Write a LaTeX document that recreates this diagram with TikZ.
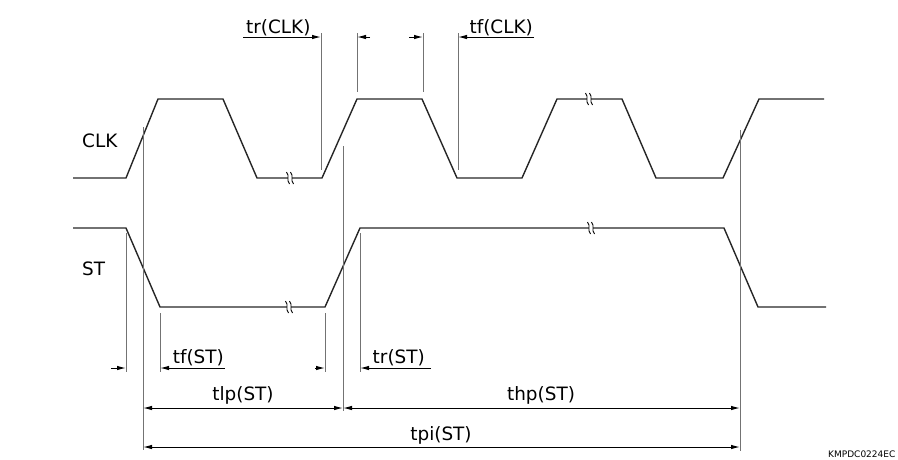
\documentclass[tikz,border=0pt]{standalone}
\usepackage{fontspec}
\setmainfont{DejaVu Sans}
\usetikzlibrary{arrows.meta}

\begin{document}
\begin{tikzpicture}[x=1pt, y=-1pt,
    wave/.style={line width=1.4pt, black!85, line join=round},
    ext/.style={line width=1pt, black!55},
    dim/.style={line width=1pt, -{Latex[length=9pt,width=4.5pt]}},
    dimb/.style={line width=1pt, {Latex[length=9pt,width=4.5pt]}-{Latex[length=9pt,width=4.5pt]}},
    lbl/.style={inner sep=0pt, font=\fontsize{18.4}{20}\selectfont}]
    \useasboundingbox (0,0) rectangle (898,459);

    % signal names
    \node[lbl, anchor=base west] (clk) at (82,147) {CLK};
    \node[lbl, anchor=base west] (st) at (82,275) {ST};

    % waveforms
    \draw[wave] (73,178) -- (126,178) -- (158,99) -- (223,99) -- (257,178) -- (322,178)
        -- (357,99) -- (422,99) -- (457,178) -- (522,178) -- (557,99) -- (622,99)
        -- (656,178) -- (723,178) -- (759,99) -- (824,99);
    \draw[wave] (73,228) -- (126,228) -- (160,307) -- (325,307) -- (360,228)
        -- (724,228) -- (758,307) -- (826,307);

    % time breaks
    \foreach \bx/\by in {290/178, 589/99, 289/307, 591/228} {
        \fill[white] (\bx-2,\by-2) rectangle (\bx+2,\by+2);
        \draw[line width=0.9pt] (\bx-3.5,\by-6) .. controls (\bx,\by-2) and (\bx-4,\by+2) .. (\bx-0.5,\by+6);
        \draw[line width=0.9pt] (\bx+0.5,\by-6) .. controls (\bx+4,\by-2) and (\bx,\by+2) .. (\bx+3.5,\by+6);
    }

    % extension lines
    \draw[ext] (321,33) -- (321,170);
    \draw[ext] (357,33) -- (357,92);
    \draw[ext] (423,33) -- (423,92);
    \draw[ext] (458,33) -- (458,170);
    \draw[ext] (143,127) -- (143,450);
    \draw[ext] (343,146) -- (343,411);
    \draw[ext] (740,130) -- (740,451);
    \draw[ext] (126,233) -- (126,372);
    \draw[ext] (360,233) -- (360,372);
    \draw[ext] (160,313) -- (160,372);
    \draw[ext] (325,313) -- (325,372);

    % rise and fall times
    \draw[dim] (243,37) -- (321,37);
    \draw[dim] (370,37) -- (357,37);
    \node[lbl, anchor=base west] (trclk) at (246,33) {tr(CLK)};
    \draw[dim] (409,37) -- (423,37);
    \draw[dim] (534,37) -- (458,37);
    \node[lbl, anchor=base east] (tfclk) at (533,33) {tf(CLK)};
    \draw[dim] (111,368) -- (126,368);
    \draw[dim] (225,368) -- (160,368);
    \node[lbl, anchor=base east] (tfst) at (224,363) {tf(ST)};
    \draw[dim] (315,368) -- (325,368);
    \draw[dim] (431,368) -- (360,368);
    \node[lbl, anchor=base east] (trst) at (425,363) {tr(ST)};

    % pulse widths
    \draw[dimb] (143,408) -- (343,408);
    \draw[dimb] (343,408) -- (740,408);
    \draw[dimb] (143,447) -- (740,447);
    \node[lbl, anchor=base] (tlp) at (243,400) {tlp(ST)};
    \node[lbl, anchor=base] (thp) at (541,400) {thp(ST)};
    \node[lbl, anchor=base] (tpi) at (441,440) {tpi(ST)};

    \node[inner sep=0pt, anchor=base west, font=\fontsize{9}{10}\selectfont] (code) at (828,457) {KMPDC0224EC};
\end{tikzpicture}
\end{document}
